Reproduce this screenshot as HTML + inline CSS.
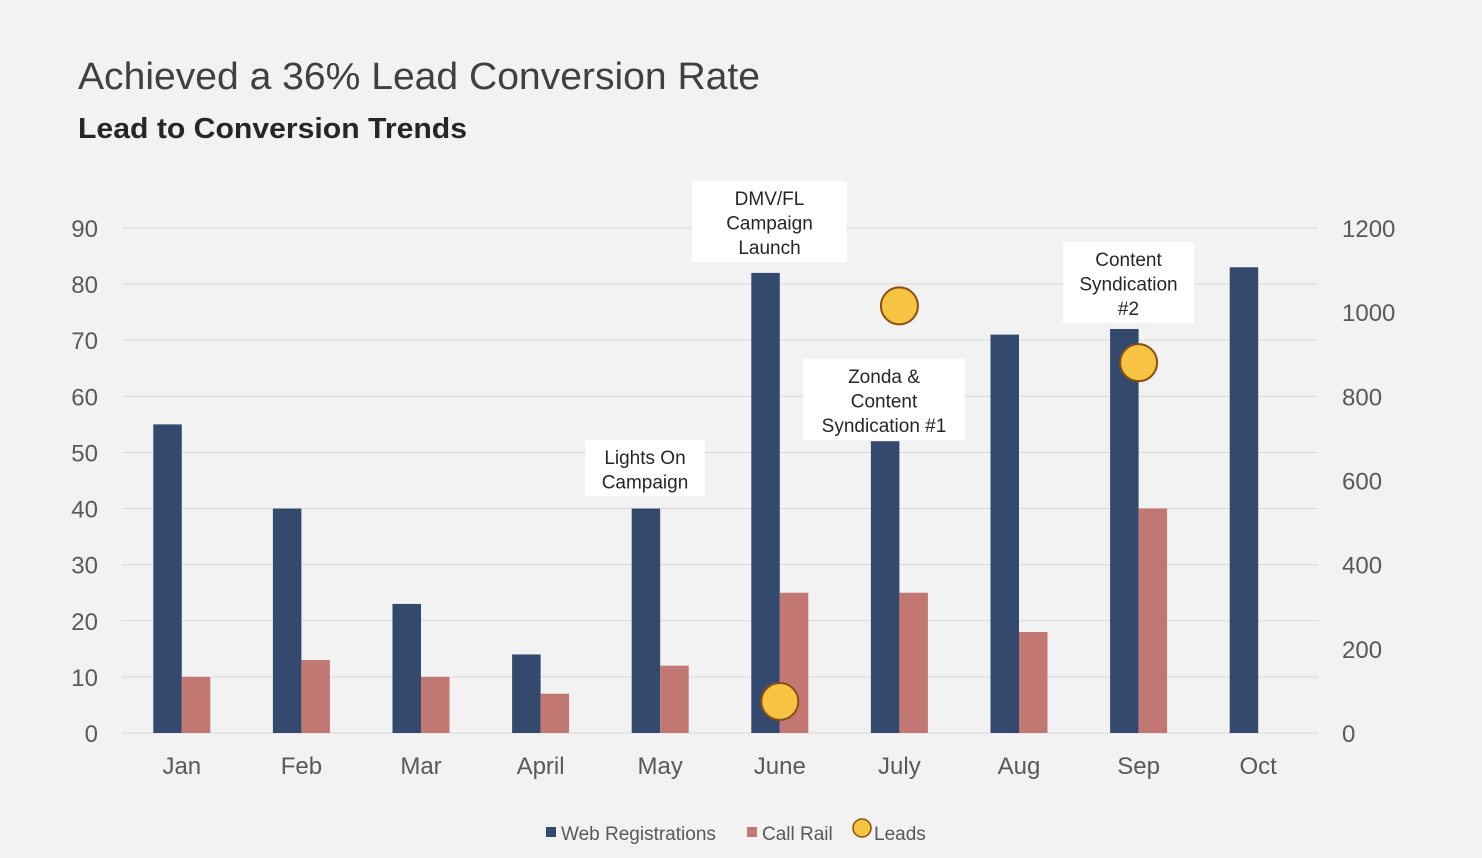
<!DOCTYPE html>
<html><head><meta charset="utf-8"><style>
body{margin:0;background:#f2f2f2;font-family:"Liberation Sans",sans-serif;}
#wrap{position:relative;width:1482px;height:858px;overflow:hidden;background:#f2f2f2}
</style></head><body>
<div id="wrap">
<svg id="chart" width="1482" height="858"></svg>
</div>
<script>
const categories=["Jan","Feb","Mar","April","May","June","July","Aug","Sep","Oct"];
const webRegistrations=[55,40,23,14,40,82,52,71,72,83];
const callRail=[10,13,10,7,12,25,25,18,40,0];
const leads=[null,null,null,null,null,75,1015,null,880,null];
const leftTicks=[0,10,20,30,40,50,60,70,80,90];
const rightTicks=[0,200,400,600,800,1000,1200];
const annotations=[
 {cat:5,lines:["DMV/FL","Campaign","Launch"],x:692,y:181,w:155,h:81},
 {cat:4,lines:["Lights On","Campaign"],x:585,y:440,w:120,h:56},
 {cat:6,lines:["Zonda &","Content","Syndication #1"],x:803,y:359,w:162,h:81},
 {cat:8,lines:["Content","Syndication","#2"],x:1063,y:242,w:131,h:81}
];
const NS="http://www.w3.org/2000/svg";
const svg=document.getElementById('chart');
function el(t,a,p){const e=document.createElementNS(NS,t);for(const k in a)e.setAttribute(k,a[k]);(p||svg).appendChild(e);return e;}
const y0=733,yTop=228,x0=122,x1=1318;
const yL=v=>y0-(v/90)*(y0-yTop);
const yR=v=>y0-(v/1200)*(y0-yTop);
const step=(x1-x0)/categories.length;
const xC=i=>x0+step*(i+0.5);
const bw=28.5;
let t;
t=el('text',{x:78,y:89,'font-size':38,fill:'#404040',textLength:682,lengthAdjust:'spacingAndGlyphs'});t.textContent="Achieved a 36% Lead Conversion Rate";

t=el('text',{x:78,y:138,'font-size':29,'font-weight':'bold',fill:'#262626',textLength:389,lengthAdjust:'spacingAndGlyphs'});t.textContent="Lead to Conversion Trends";

leftTicks.forEach(v=>{
 const l=el('line',{x1:x0,x2:x1,y1:yL(v),y2:yL(v),stroke:'#d9d9d9','stroke-width':1});
 
 const tx=el('text',{x:98,y:yL(v)+9,'font-size':24,fill:'#595959','text-anchor':'end'});tx.textContent=v;
 
});
rightTicks.forEach(v=>{
 const tx=el('text',{x:1342,y:yR(v)+9,'font-size':24,fill:'#595959'});tx.textContent=v;
 
});
categories.forEach((c,i)=>{
 const cx=xC(i);
 const b=el('rect',{x:cx-bw,y:yL(webRegistrations[i]),width:bw,height:y0-yL(webRegistrations[i]),fill:'#334a6e'});
 
 const r=el('rect',{x:cx,y:yL(callRail[i]),width:bw,height:y0-yL(callRail[i]),fill:'#c27772'});
 
 const tx=el('text',{x:cx,y:774,'font-size':24,fill:'#595959','text-anchor':'middle'});tx.textContent=c;
 
});
annotations.forEach(a=>{
 const g=el('g',{});
 
 el('rect',{x:a.x,y:a.y,width:a.w,height:a.h,fill:'#ffffff'},g);
 a.lines.forEach((s,k)=>{const tx=el('text',{x:a.x+a.w/2,y:a.y+24+k*24.5,'font-size':19,fill:'#262626','text-anchor':'middle'},g);tx.textContent=s;});
});
leads.forEach((v,i)=>{
 if(v==null)return;
 const c=el('circle',{cx:xC(i),cy:yR(v),r:18.5,fill:'#f6c343',stroke:'#8a4f12','stroke-width':2});
 
});
const lg=el('g',{});

el('rect',{x:546,y:827,width:10,height:10,fill:'#334a6e'},lg);
t=el('text',{x:561,y:840,'font-size':19,fill:'#595959'},lg);t.textContent="Web Registrations";
el('rect',{x:747,y:827,width:10,height:10,fill:'#c27772'},lg);
t=el('text',{x:762,y:840,'font-size':19,fill:'#595959'},lg);t.textContent="Call Rail";
el('circle',{cx:862,cy:828,r:9,fill:'#f6c343',stroke:'#8a4f12','stroke-width':1.5},lg);
t=el('text',{x:874,y:840,'font-size':19,fill:'#595959'},lg);t.textContent="Leads";
</script>
</body></html>
